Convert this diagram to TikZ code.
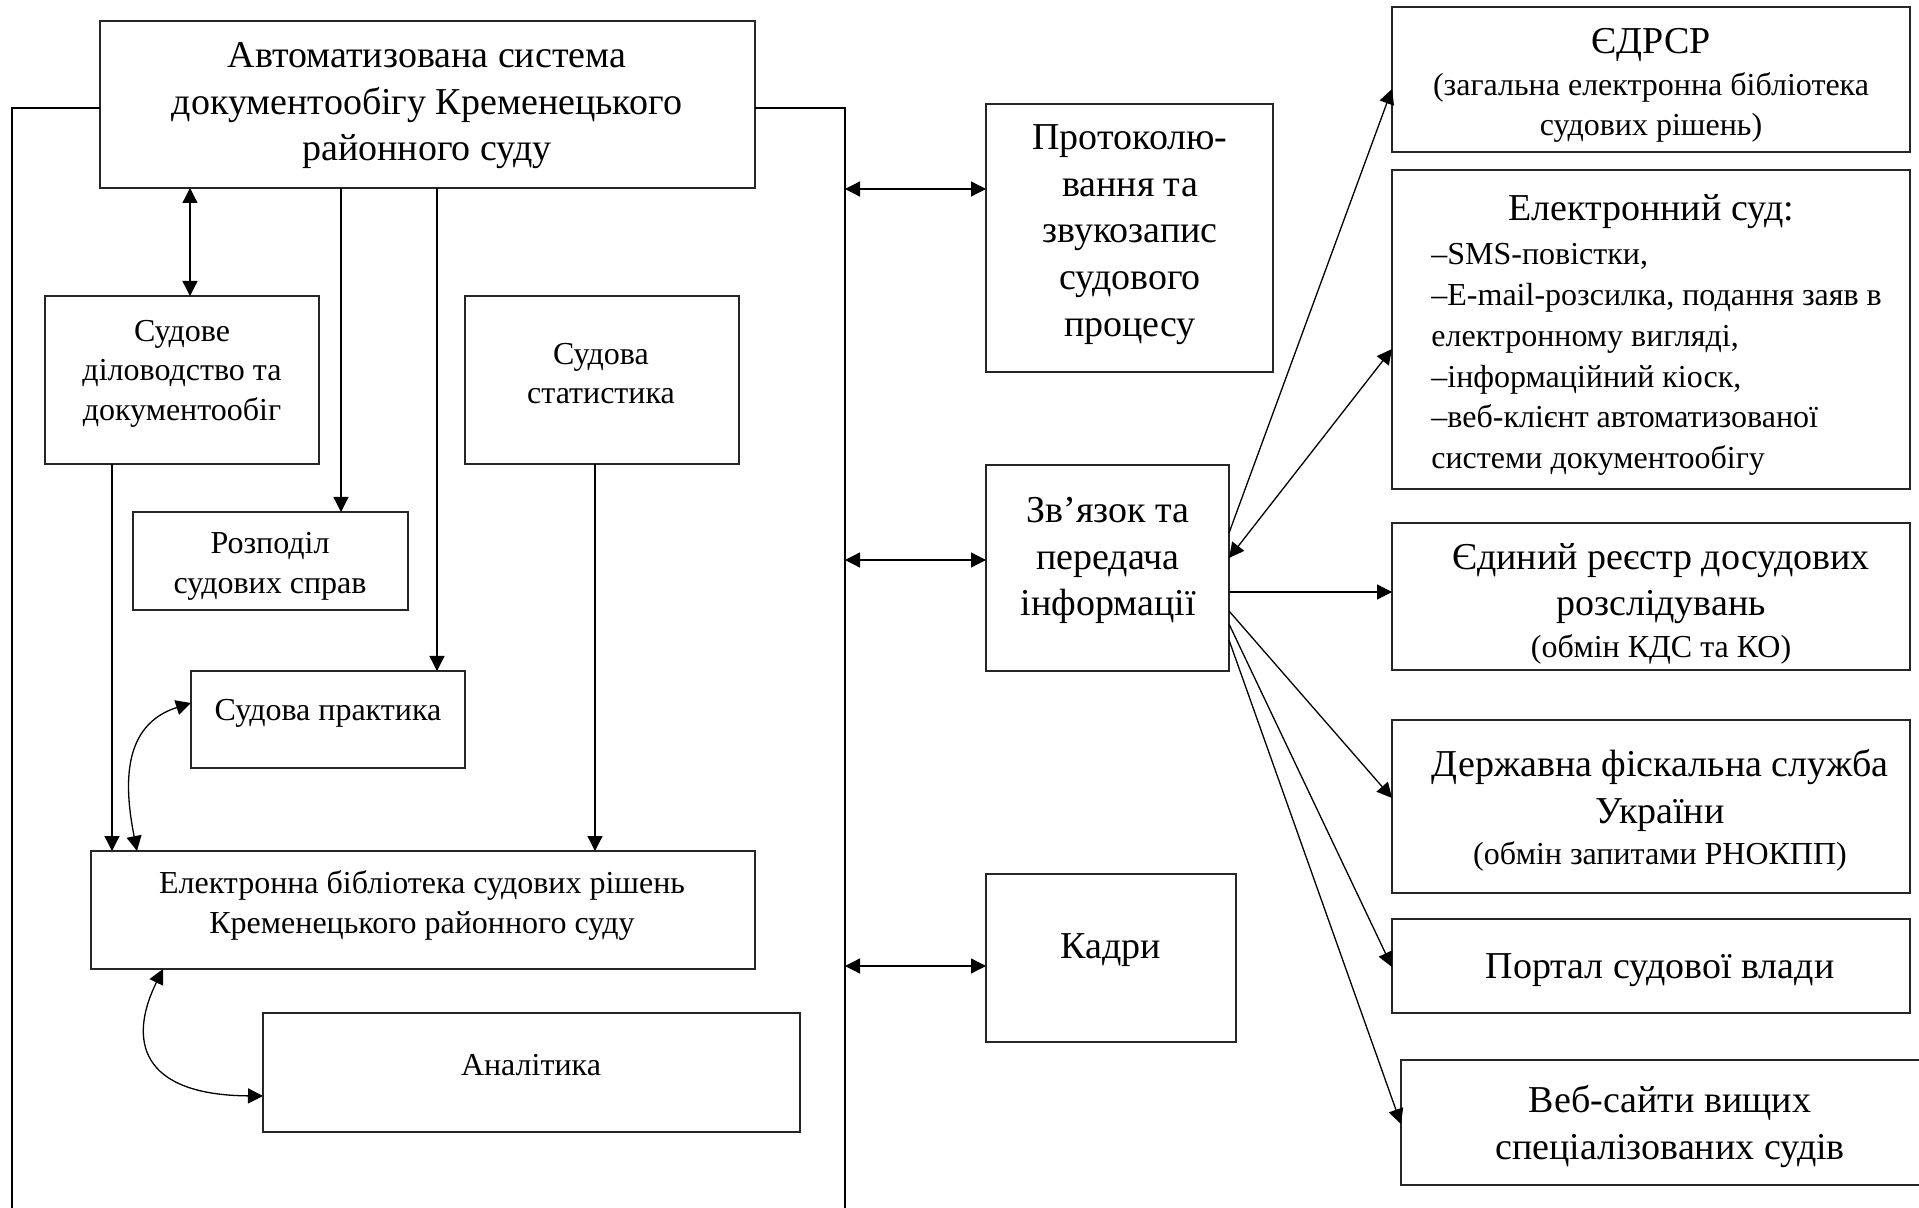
\documentclass[tikz,border=0pt]{standalone}
\usepackage{fontspec}
\setmainfont{Liberation Serif}
\usetikzlibrary{arrows.meta}
\newcommand\tzbig{\fontsize{19}{23.3}\selectfont}
\newcommand\tzsmall{\fontsize{16}{19.8}\selectfont}
\begin{document}
\begin{tikzpicture}[x=0.5pt,y=-0.5pt,
  box/.style={draw=black!85, line width=0.75pt, inner sep=0, outer sep=0, anchor=north west},
  tb/.style={inner sep=0, align=center, font=\tzbig, yshift=-1.8pt},
  ts/.style={inner sep=0, align=center, font=\tzsmall, yshift=-1.8pt},
  ln/.style={line width=0.65pt},
  arr/.style={line width=0.65pt, -{Triangle[length=7.5pt,width=7.5pt]}},
  darr/.style={line width=0.65pt, {Triangle[length=7.5pt,width=7.5pt]}-{Triangle[length=7.5pt,width=7.5pt]}}
]
\useasboundingbox (0,0) rectangle (1919,1208);

% ---------- boxes (left part) ----------
\node[box, minimum width=327.5pt, minimum height=83.5pt] (main) at (100,21) {};
\node[box, minimum width=137pt, minimum height=84pt] (sud) at (45,296) {};
\node[box, minimum width=137pt, minimum height=84pt] (stat) at (465,296) {};
\node[box, minimum width=137.5pt, minimum height=49pt] (rozp) at (133,512) {};
\node[box, minimum width=137pt, minimum height=48.5pt] (prak) at (191,671) {};
\node[box, minimum width=332pt, minimum height=59pt] (bib) at (91,851) {};
\node[box, minimum width=268.5pt, minimum height=59.5pt] (anal) at (263,1013) {};

% ---------- boxes (middle) ----------
\node[box, minimum width=143.5pt, minimum height=134pt] (prot) at (986,104) {};
\node[box, minimum width=121.5pt, minimum height=103pt] (zv) at (986,465) {};
\node[box, minimum width=125pt, minimum height=84pt] (kadr) at (986,874) {};

% ---------- boxes (right) ----------
\node[box, minimum width=259pt, minimum height=72.5pt] (edr) at (1392,7) {};
\node[box, minimum width=259pt, minimum height=159.5pt] (esud) at (1392,170) {};
\node[box, minimum width=259pt, minimum height=73.5pt] (reestr) at (1392,523) {};
\node[box, minimum width=259pt, minimum height=86.5pt] (dfs) at (1392,720) {};
\node[box, minimum width=259pt, minimum height=47pt] (port) at (1392,919) {};
\node[box, minimum width=264.5pt, minimum height=62.5pt] (web) at (1401,1060) {};

% ---------- texts ----------
\node[tb] (t-main) at (427,102) {Автоматизована система\\документообігу Кременецького\\районного суду};
\node[ts] (t-sud) at (182,370) {Судове\\діловодство та\\документообіг};
\node[ts] (t-stat) at (601,370) {Судова\\статистика};
\node[ts] (t-rozp) at (270,563) {Розподіл\\судових справ};
\node[ts] (t-prak) at (328,710) {Судова практика};
\node[ts] (t-bib) at (422,902) {Електронна бібліотека судових рішень\\Кременецького районного суду};
\node[ts] (t-anal) at (531,1061) {Аналітика};
\node[tb] (t-prot) at (1130,231) {Протоколю-\\вання та\\звукозапис\\судового\\процесу};
\node[tb] (t-zv) at (1108,557) {Зв’язок та\\передача\\інформації};
\node[tb] (t-kadr) at (1111,947) {Кадри};
\node[tb, yshift=-0.8pt] (t-edr1) at (1651,40) {ЄДРСР};
\node[ts] (t-edr2) at (1651,104) {(загальна електронна бібліотека\\судових рішень)};
\node[tb] (t-esud1) at (1651,208) {Електронний суд:};
\node[ts, align=left, anchor=west, font=\fontsize{16}{20.4}\selectfont] (t-esud2) at (1431,356) {–SMS-повістки,\\–E-mail-розсилка, подання заяв в\\електронному вигляді,\\–інформаційний кіоск,\\–веб-клієнт автоматизованої\\системи документообігу};
\node[tb] (t-re1) at (1661,580) {Єдиний реєстр досудових\\розслідувань};
\node[ts] (t-re2) at (1661,646) {(обмін КДС та КО)};
\node[tb] (t-dfs1) at (1660,787) {Державна фіскальна служба\\України};
\node[ts] (t-dfs2) at (1660,853) {(обмін запитами РНОКПП)};
\node[tb] (t-port) at (1660,967) {Портал судової влади};
\node[tb] (t-web) at (1670,1123) {Веб-сайти вищих\\спеціалізованих судів};

% ---------- frame ----------
\coordinate (fl) at (12,108);
\coordinate (fr) at (845,108);
\draw[ln] (main.west |- fl) -- (fl) -- (12,1215);
\draw[ln] (main.east |- fr) -- (fr) -- (845,1215);

% ---------- left connectors ----------
\draw[darr] (190,0 |- main.south) -- (190,0 |- sud.north);
\draw[arr] (341,0 |- main.south) -- (341,0 |- rozp.north);
\draw[arr] (437,0 |- main.south) -- (437,0 |- prak.north);
\draw[arr] (112,0 |- sud.south) -- (112,0 |- bib.north);
\draw[arr] (595,0 |- stat.south) -- (595,0 |- bib.north);
\draw[darr] (137,0 |- bib.north) .. controls (124,785) and (122,725) .. (prak.west |- 0,703);
\draw[darr] (163,0 |- bib.south) .. controls (128,1040) and (140,1095) .. (anal.west |- 0,1096);

% ---------- middle connectors ----------
\coordinate (r1) at (845,189);
\coordinate (r2) at (845,560);
\coordinate (r3) at (845,966);
\draw[darr] (r1) -- (r1 -| prot.west);
\draw[darr] (r2) -- (r2 -| zv.west);
\draw[darr] (r3) -- (r3 -| kadr.west);

% ---------- right connectors ----------
\draw[arr] (zv.east |- 0,533) -- (edr.west |- 0,89);
\draw[darr] (esud.west |- 0,349) -- (zv.east |- 0,558);
\draw[arr] (zv.east |- 0,592) -- (reestr.west |- 0,592);
\draw[arr] (zv.east |- 0,611) -- (dfs.west |- 0,798);
\draw[arr] (zv.east |- 0,624) -- (port.west |- 0,967);
\draw[arr] (zv.east |- 0,640) -- (web.west |- 0,1124);
\end{tikzpicture}
\end{document}
